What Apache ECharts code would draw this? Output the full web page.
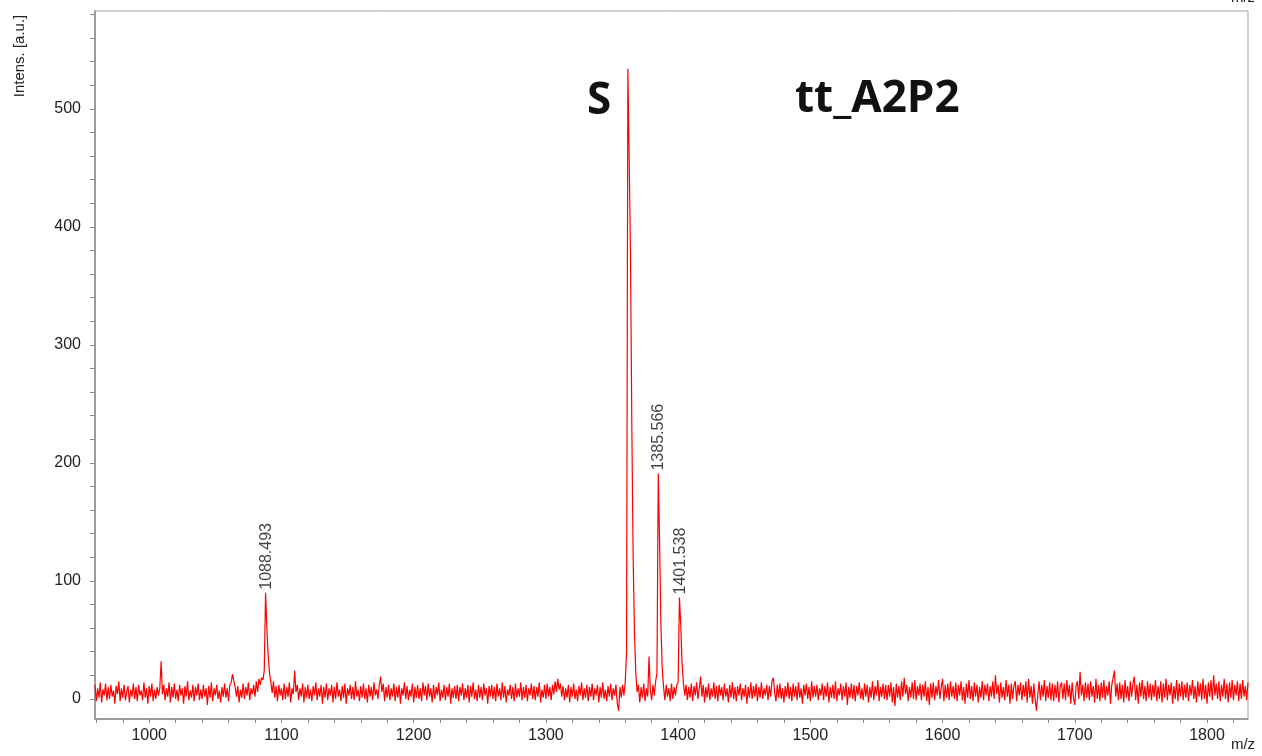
<!DOCTYPE html>
<html lang="en">
<head>
    <meta charset="UTF-8">
    <title>tt_A2P2</title>
    <script src="https://cdn.jsdelivr.net/npm/echarts@6/dist/echarts.min.js"></script>
    <style>
        html, body { margin: 0; padding: 0; background: #fff; }
        #main { width: 1262px; height: 756px; }
    </style>
</head>
<body>
<div id="main"></div>
<script type="text/javascript">
    // spectrum sampled every 1 m/z starting at mzStart
    var mzStart = 959;
    var mzStep = 1;
    var intensity = [
        12, -2, 9, 1, 14, -3, 8, 3, 13, -1, 10, 0, 12, 2, 7, -4, 11, 4, 15, -2, 9, 1, 12, -1, 6,
        11, -3, 8, 2, 13, 0, 10, -2, 12, 3, 7, -1, 14, 1, 9, -4, 11, 2, 13, -2, 8, 0, 10, 3, 9,
        32, 4, 12, -1, 9, 2, 14, -3, 10, 1, 13, 0, 8, -2, 12, 3, 9, -4, 11, 2, 15, -1, 7, 1, 12,
        -2, 10, 3, 13, -1, 8, 0, 12, 2, 9, -5, 11, 1, 14, -2, 9, 3, 12, 0, 7, -3, 10, 2, 13, 1,
        9, -2, 12, 14, 21, 15, 10, 2, 11, -3, 8, 1, 13, 0, 10, 3, 14, -1, 9, 4, 12, 2, 15, 6, 17,
        12, 18, 16, 24, 90, 60, 36, 22, 14, 5, 15, 1, 11, -2, 12, 3, 9, -1, 13, 0, 10, 2, 14, -3, 9,
        4, 24, 6, 12, -1, 9, 2, 13, -3, 10, 1, 12, 0, 8, -2, 11, 3, 14, -1, 9, 2, 12, -4, 10, 1,
        13, -1, 9, 3, 12, -3, 10, 0, 14, 2, 8, -2, 11, 1, 13, -4, 9, 3, 12, 0, 10, -1, 15, 2, 8,
        -2, 11, 1, 13, 0, 9, -3, 12, 2, 10, -1, 14, 3, 8, 0, 12, 19, 6, 13, -2, 10, 1, 12, -1, 9,
        2, 13, -2, 10, 1, 12, -4, 9, 3, 14, 0, 11, -1, 8, 2, 13, -3, 10, 1, 12, 0, 9, -2, 14, 3,
        11, -1, 13, 2, 9, -3, 12, 0, 10, 3, 14, -2, 8, 1, 12, -1, 10, 2, 13, -4, 9, 1, 11, 0, 12,
        -2, 10, 3, 13, -1, 9, 1, 12, -3, 11, 2, 14, 0, 8, -2, 12, 1, 10, -1, 13, 3, 9, -4, 11, 2,
        12, 0, 10, -2, 13, 2, 9, -1, 14, 1, 11, -3, 8, 3, 12, 0, 10, -2, 13, 1, 9, 2, 14, -1, 10,
        1, 12, -2, 9, 3, 13, 0, 11, -1, 10, 2, 14, -3, 8, 1, 12, 0, 13, 2, 10, -1, 12, 4, 15, 6,
        17, 8, 13, 2, 11, -1, 9, 1, 12, -3, 10, 2, 13, 0, 8, -2, 11, 3, 14, -1, 9, 1, 12, -2, 10,
        2, 13, -1, 9, 3, 12, -3, 10, 1, 14, 0, 8, -2, 11, 2, 13, -1, 9, 3, 12, -4, -10, 10, 1, 12,
        3, 14, 40, 534, 458, 375, 230, 120, 55, 22, 6, 12, -3, 10, 1, 13, -2, 9, 2, 36, 8, -1, 12, 3, 15,
        22, 191, 132, 62, 26, 10, -1, 12, 2, 9, -2, 13, 0, 10, 3, 12, 14, 86, 63, 30, 14, 3, 12, -1, 10,
        1, 13, -2, 11, 3, 14, 0, 9, 19, 2, 12, -3, 10, 1, 13, -1, 9, 2, 14, 0, 11, -2, 12, 3, 10,
        -1, 13, 2, 9, -3, 12, 1, 14, 0, 10, -2, 11, 3, 13, -1, 9, 2, 12, -4, 10, 1, 14, 0, 11, 2,
        13, -2, 10, 1, 14, 0, 9, 3, 12, -1, 11, 2, 15, 18, 6, -2, 12, 1, 13, 0, 9, -3, 11, 2, 14,
        0, 10, -2, 13, 2, 11, -1, 14, 1, 9, -4, 12, 3, 13, 0, 10, -2, 15, 1, 11, 2, 12, -1, 9, 3,
        13, -1, 11, 2, 14, -3, 10, 1, 12, 0, 15, -2, 9, 3, 13, -1, 11, 2, 14, -5, 10, 1, 13, 0, 12,
        -2, 11, 3, 14, 0, 9, -1, 13, 2, 12, -3, 10, 1, 15, -1, 11, 3, 16, -2, 10, 2, 13, 0, 12, -1,
        12, 2, 14, -3, 10, -6, 13, 1, 11, -1, 15, 2, 18, 4, 12, -2, 10, 1, 14, 0, 16, -1, 11, 3, 13,
        -1, 12, 2, 15, -2, 10, -5, 13, 1, 14, -1, 11, 3, 16, 0, 10, 17, -2, 12, 1, 13, -1, 15, 2, 11,
        0, 14, -2, 12, 3, 15, -1, 10, -4, 13, 1, 16, 0, 11, -2, 14, 2, 12, -3, 10, 1, 15, -1, 12, 3,
        13, -2, 11, 2, 15, 0, 20, 4, 12, -3, 14, 1, 10, -1, 16, 2, 12, -4, 13, 0, 11, 15, -2, 12, 3,
        14, -1, 12, 2, 15, -3, 17, 1, 11, -4, 13, 0, -10, 3, 15, -1, 12, 2, 16, -2, 11, 1, 14, -1, 13,
        -2, 12, 1, 15, -3, 11, 14, 0, 13, -1, 16, 2, 12, -4, 14, 1, -5, 11, 15, 0, 23, 3, 12, -2, 14,
        1, 13, -1, 15, 2, 11, -3, 17, 0, 12, -2, 14, 1, 16, -1, 11, 3, 15, -4, 12, 18, 24, 2, 13, -1,
        14, 0, 12, -3, 16, 1, 11, -2, 15, 2, 13, 19, -1, 12, -4, 14, 2, 16, 0, 11, -2, 15, 1, 13, -1,
        12, 2, 16, -2, 11, 0, 15, -3, 13, 1, 17, -1, 12, 3, 14, -4, 11, 0, 16, -2, 13, 2, 15, -1, 12,
        1, 14, -2, 12, 3, 16, 0, 11, -3, 15, 2, 13, -1, 17, 0, 12, -4, 14, 2, 16, -1, 20, 3, 13, 0,
        15, -2, 12, 2, 17, 0, 13, -3, 14, 1, 16, -1, 12, 3, 15, -2, 13, 0, 16, 2, 11, -1, 14
    ];

    // annotated peaks: m/z and apex intensity
    var peakMz = [1088.493, 1385.566, 1401.538];
    var peakInt = [90, 191, 86];

    var xTicks = [960, 980, 1000, 1020, 1040, 1060, 1080, 1100, 1120, 1140, 1160, 1180, 1200, 1220, 1240,
        1260, 1280, 1300, 1320, 1340, 1360, 1380, 1400, 1420, 1440, 1460, 1480, 1500, 1520, 1540, 1560,
        1580, 1600, 1620, 1640, 1660, 1680, 1700, 1720, 1740, 1760, 1780, 1800, 1820];
    var xLabels = [1000, 1100, 1200, 1300, 1400, 1500, 1600, 1700, 1800];
    var yTicks = [0, 20, 40, 60, 80, 100, 120, 140, 160, 180, 200, 220, 240, 260, 280, 300, 320, 340,
        360, 380, 400, 420, 440, 460, 480, 500, 520, 540, 560, 580];
    var yLabels = [0, 100, 200, 300, 400, 500];

    var spectrum = intensity.map(function (v, i) {
        return [mzStart + i * mzStep, v];
    });
    var peaks = peakMz.map(function (m, i) {
        return [m, peakInt[i]];
    });

    var axisColor = '#8c8c8c';
    var labelFont = 'Liberation Sans';

    var myChart = echarts.init(document.getElementById('main'));
    var option = {
        animation: false,
        grid: {
            left: 95,
            right: 14,
            top: 11,
            bottom: 37,
            show: true,
            borderColor: '#a0a0a0',
            borderWidth: 1
        },
        xAxis: {
            type: 'value',
            min: 959,
            max: 1831,
            axisLine: {show: true, onZero: false, lineStyle: {color: axisColor, width: 1.5}},
            axisTick: {show: true, customValues: xTicks, length: 4, lineStyle: {color: axisColor}},
            axisLabel: {
                customValues: xLabels,
                color: '#222',
                fontSize: 16,
                fontFamily: labelFont,
                margin: 9,
                formatter: function (v) {
                    return String(v);
                }
            },
            splitLine: {show: false}
        },
        yAxis: {
            type: 'value',
            min: -17,
            max: 583,
            axisLine: {show: true, onZero: false, lineStyle: {color: axisColor, width: 1.5}},
            axisTick: {show: true, customValues: yTicks, length: 5, lineStyle: {color: axisColor}},
            axisLabel: {
                customValues: yLabels,
                color: '#222',
                fontSize: 16,
                fontFamily: labelFont,
                margin: 14,
                formatter: function (v) {
                    return String(v);
                }
            },
            splitLine: {show: false}
        },
        series: [
            {
                name: 'spectrum',
                type: 'line',
                data: spectrum,
                showSymbol: false,
                sampling: null,
                lineStyle: {color: '#ff0000', width: 1.2},
                z: 2
            },
            {
                name: 'peak labels',
                type: 'scatter',
                data: peaks,
                symbolSize: 0,
                silent: true,
                label: {
                    show: true,
                    position: 'top',
                    rotate: 90,
                    align: 'left',
                    verticalAlign: 'middle',
                    distance: 3,
                    color: '#111',
                    fontSize: 16,
                    fontFamily: labelFont,
                    formatter: function (p) {
                        return p.value[0].toFixed(3);
                    }
                },
                z: 3
            }
        ],
        graphic: [
            {
                type: 'text', x: 20, y: 56, rotation: Math.PI / 2,
                style: {text: 'Intens. [a.u.]', font: '15px Liberation Sans', fill: '#222',
                    align: 'center', verticalAlign: 'middle'}
            },
            {
                type: 'text', x: 1243, y: 745,
                style: {text: 'm/z', font: '15px Liberation Sans', fill: '#222',
                    align: 'center', verticalAlign: 'middle'}
            },
            {
                type: 'text', x: 1243, y: -2,
                style: {text: 'm/z', font: '15px Liberation Sans', fill: '#222',
                    align: 'center', verticalAlign: 'middle'}
            },
            {
                type: 'text', x: 599, y: 101,
                style: {text: 'S', font: 'bold 44px Open Sans', fill: '#111',
                    align: 'center', verticalAlign: 'middle'}
            },
            {
                type: 'text', x: 795, y: 99,
                style: {text: 'tt_A2P2', font: 'bold 44px Open Sans', fill: '#111',
                    align: 'left', verticalAlign: 'middle'}
            }
        ]
    };
    myChart.setOption(option);
</script>
</body>
</html>
